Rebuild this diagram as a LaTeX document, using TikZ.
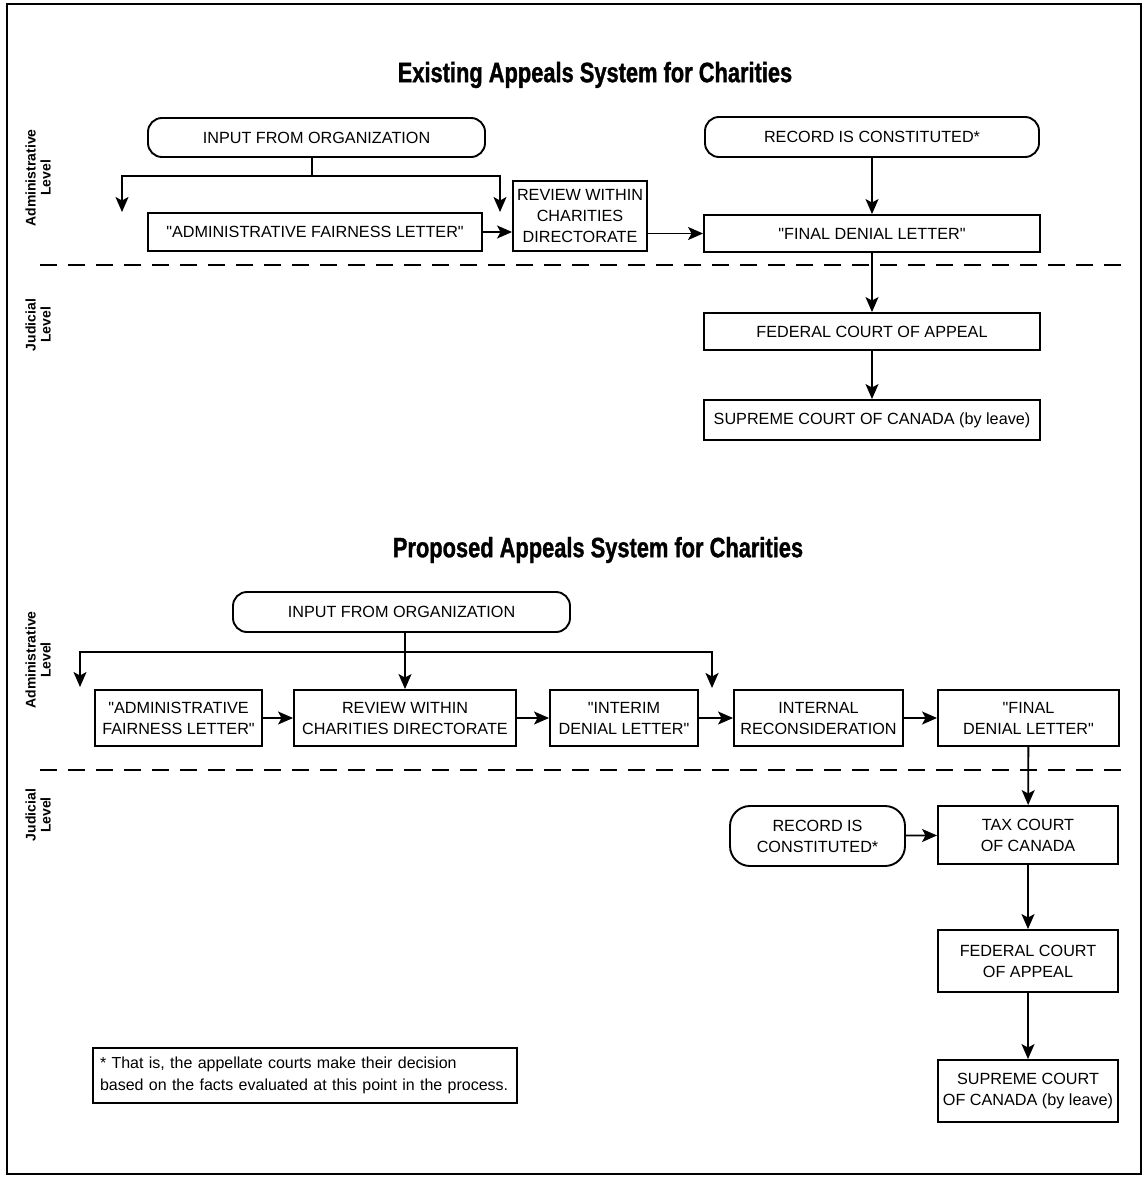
\documentclass[tikz,border=0pt]{standalone}
\usepackage{fontspec}
\setmainfont{Liberation Sans}
\newfontfamily\ttlfont[FakeStretch=0.78,FakeBold=1.2]{Liberation Sans Bold}
\usetikzlibrary{arrows.meta}
\newcommand\qt{\textquotedbl}

\begin{document}
\begin{tikzpicture}[x=1pt,y=-1pt,
	cell/.style={
		rectangle,
		draw,
		line width=1.9pt,
		align=center,
		inner sep=0pt,
		font=\fontsize{16.2}{21}\selectfont
	},
	term/.style={% rounded start boxes
		cell,
		rounded corners=14pt
	},
	lvl/.style={
		rotate=90,
		align=center,
		font=\bfseries\fontsize{14}{15}\selectfont
	},
	ttl/.style={font=\ttlfont\fontsize{28}{30}\selectfont},
	ArrowC1/.style={
		line width=1.8pt,
		-{Stealth[length=15pt,width=13pt,inset=3.5pt]}
	},
	plain/.style={line width=1.8pt},
	sep/.style={line width=1.8pt, dash pattern=on 17pt off 11pt},
]
	\useasboundingbox (0,0) rectangle (1144,1177);
	\draw [line width=2.5pt] (7,4) rectangle (1141,1174);

	% existing system
	\node [ttl] (t1) at (595,75) {Existing Appeals System for Charities};
	\node [lvl] (adm1) at (38,178) {Administrative\\Level};
	\node [lvl] (jud1) at (38,325) {Judicial\\Level};

	\node [term, minimum width=337pt, minimum height=39pt] (in1) at (316.5,137.5) {INPUT FROM ORGANIZATION};
	\node [term, minimum width=334pt, minimum height=40pt] (rec1) at (872,137) {RECORD IS CONSTITUTED*};

	\node [cell, minimum width=334pt, minimum height=38pt] (afl1) at (315,232) {\qt ADMINISTRATIVE FAIRNESS LETTER\qt};
	\node [cell, minimum width=134pt, minimum height=70pt] (rev1) at (580,216) {REVIEW WITHIN\\CHARITIES\\DIRECTORATE};
	\node [cell, minimum width=336pt, minimum height=37pt] (fdl1) at (872,233.5) {\qt FINAL DENIAL LETTER\qt};
	\node [cell, minimum width=336pt, minimum height=37pt] (fca1) at (872,331.5) {FEDERAL COURT OF APPEAL};
	\node [cell, minimum width=336pt, minimum height=40pt] (scc1) at (872,420) {SUPREME COURT OF CANADA (by leave)};

	\coordinate (fork1) at (312,176);
	\coordinate (endL1) at (122,212);
	\coordinate (endR1) at (500,212);

	\draw [plain] (in1.south -| fork1) -- (fork1);
	\draw [ArrowC1] (fork1) -| (endL1);
	\draw [ArrowC1] (fork1) -| (endR1);
	\draw [ArrowC1] (afl1.east) -- (afl1.east -| rev1.west);
	\draw [ArrowC1] (rev1.east |- fdl1) -- (fdl1.west);
	\draw [ArrowC1] (rec1) -- (fdl1);
	\draw [sep] (40,265) -- (1128,265);
	\draw [ArrowC1] (fdl1) -- (fca1);
	\draw [ArrowC1] (fca1) -- (scc1);

	% proposed system
	\node [ttl] (t2) at (598,550) {Proposed Appeals System for Charities};
	\node [lvl] (adm2) at (38,660) {Administrative\\Level};
	\node [lvl] (jud2) at (38,815) {Judicial\\Level};

	\node [term, minimum width=337pt, minimum height=40pt] (in2) at (401.5,612) {INPUT FROM ORGANIZATION};

	\node [cell, minimum width=167pt, minimum height=56pt] (afl2) at (178.5,718) {\qt ADMINISTRATIVE\\FAIRNESS LETTER\qt};
	\node [cell, minimum width=222pt, minimum height=56pt] (rev2) at (405,718) {REVIEW WITHIN\\CHARITIES DIRECTORATE};
	\node [cell, minimum width=148pt, minimum height=56pt] (idl2) at (624,718) {\qt INTERIM\\DENIAL LETTER\qt};
	\node [cell, minimum width=169pt, minimum height=56pt] (irc2) at (818.5,718) {INTERNAL\\RECONSIDERATION};
	\node [cell, minimum width=181pt, minimum height=56pt] (fdl2) at (1028.5,718) {\qt FINAL\\DENIAL LETTER\qt};

	\node [term, rounded corners=20pt, minimum width=175pt, minimum height=60pt] (rec2) at (817.5,836) {RECORD IS\\CONSTITUTED*};
	\node [cell, minimum width=180pt, minimum height=58pt] (tax2) at (1028,835) {TAX COURT\\OF CANADA};
	\node [cell, minimum width=180pt, minimum height=62pt] (fca2) at (1028,961) {FEDERAL COURT\\OF APPEAL};
	\node [cell, minimum width=180pt, minimum height=62pt] (scc2) at (1028,1091) {SUPREME COURT\\OF CANADA (by leave)};

	\node [cell, align=left, minimum width=424pt, minimum height=55pt, text width=410pt,
		font=\fontsize{16}{22}\selectfont] (note) at (305,1075.5)
		{* That is, the appellate courts make their decision\\based on the facts evaluated at this point in the process.};

	\coordinate (fork2) at (405,652);
	\coordinate (endL2) at (80,687);
	\coordinate (endR2) at (712,688);

	\draw [ArrowC1] (in2.south -| rev2) -- (rev2.north);
	\draw [ArrowC1] (fork2) -| (endL2);
	\draw [ArrowC1] (fork2) -| (endR2);
	\draw [ArrowC1] (afl2) -- (rev2);
	\draw [ArrowC1] (rev2) -- (idl2);
	\draw [ArrowC1] (idl2) -- (irc2);
	\draw [ArrowC1] (irc2) -- (fdl2);
	\draw [sep] (40,770) -- (1128,770);
	\draw [ArrowC1] (fdl2) -- (tax2);
	\draw [ArrowC1] (rec2) -- (tax2);
	\draw [ArrowC1] (tax2) -- (fca2);
	\draw [ArrowC1] (fca2) -- (scc2);
\end{tikzpicture}
\end{document}
